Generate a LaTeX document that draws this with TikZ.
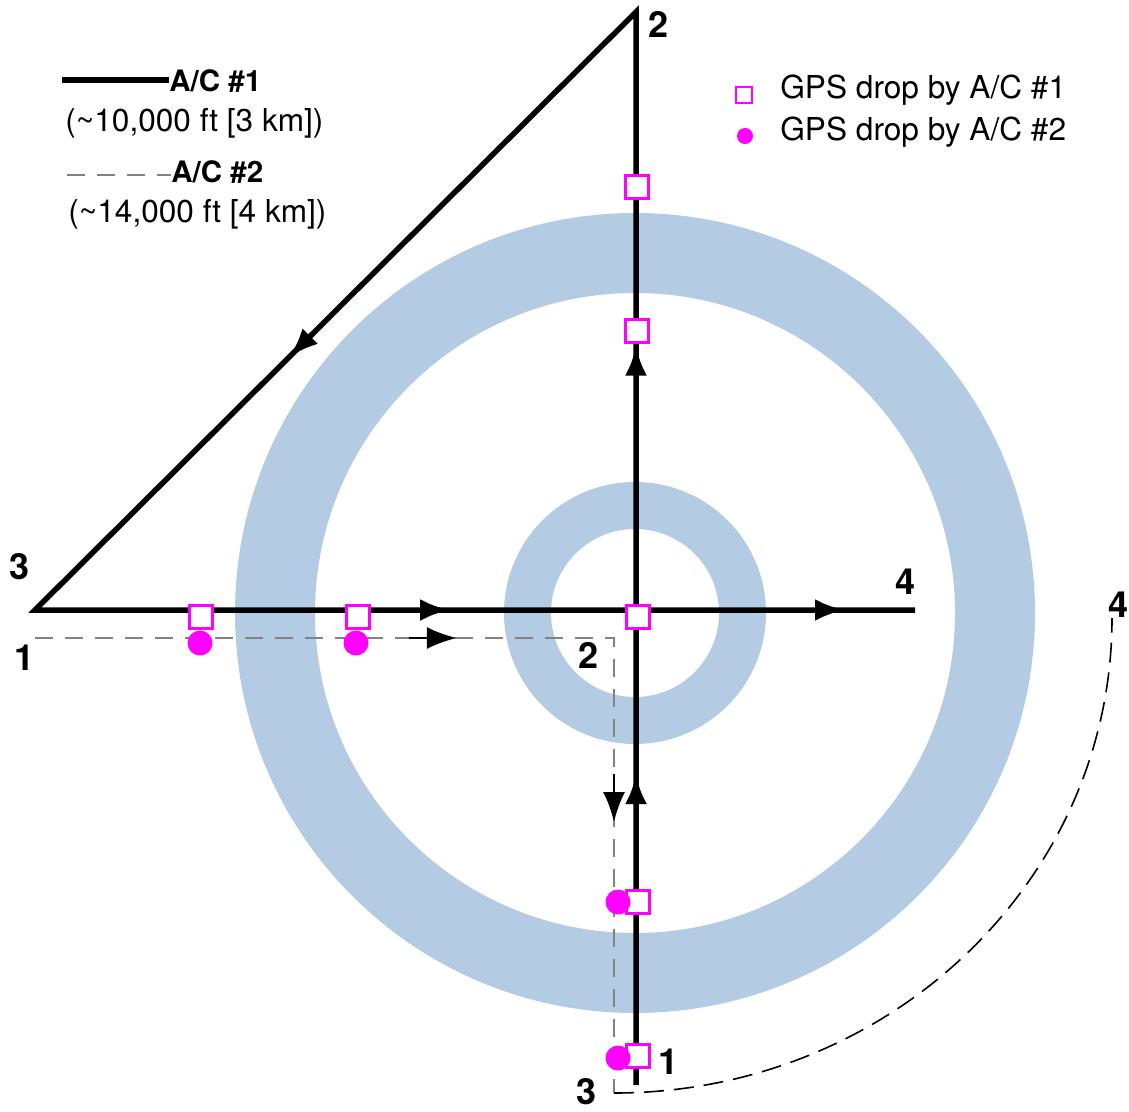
\documentclass[tikz,border=0pt]{standalone}
\usepackage{fontspec}
\setmainfont{TeX Gyre Heros}
\usetikzlibrary{arrows.meta,decorations.markings}

\definecolor{ringblue}{RGB}{179,204,228}
\definecolor{trackgray}{RGB}{130,130,130}
\definecolor{dropmag}{RGB}{255,0,255}

\tikzset{
  trackA/.style={line width=2.75pt, line join=miter},
  trackB/.style={trackgray, line width=1.3pt, dash pattern=on 9pt off 6pt},
  trackC/.style={black, line width=0.8pt, dash pattern=on 10pt off 5pt},
  tipA/.style={postaction={decorate, decoration={markings,
      mark=at position #1 with {\arrow[black]{Latex[length=15pt 0 0,width=11pt 0 0]}}}}},
  tipB/.style={postaction={decorate, decoration={markings,
      mark=at position #1 with {\draw[black, solid, line width=0.8pt] (-24pt,0pt) -- (-10pt,0pt);
        \arrow[black]{Latex[length=15pt 0 0,width=11pt 0 0]}}}}},
  dropA/.style={draw=dropmag, fill=white, line width=1.6pt, minimum size=11.8pt, inner sep=0pt},
  dropB/.style={circle, fill=dropmag, minimum size=12.5pt, inner sep=0pt},
  wpt/.style={font=\fontsize{18}{20}\selectfont\bfseries, inner sep=0pt},
  keytxt/.style={font=\fontsize{15.8}{18}\selectfont, inner sep=0pt},
  keyhead/.style={font=\fontsize{14.75}{18}\selectfont\bfseries, inner sep=0pt},
}

\begin{document}
\begin{tikzpicture}[x=0.5pt,y=-0.5pt]
\useasboundingbox (0,0) rectangle (1129,1112);

% rings
\coordinate (ctr) at (635,613);
\fill[ringblue, even odd rule] (ctr) circle (400) (ctr) circle (320);
\fill[ringblue, even odd rule] (ctr) circle (131) (ctr) circle (84);

% A/C #1 track
\coordinate (a1) at (636,1085);
\coordinate (a2) at (636,12);
\coordinate (a3) at (35,610);
\coordinate (a4) at (915,610);
\draw[trackA, tipA=0.111, tipA=0.264, tipA=0.558, tipA=0.834, tipA=0.975]
  (a1) -- (a2) -- (a3) -- (a4);

% A/C #2 track
\coordinate (b1) at (35,638);
\coordinate (b2) at (614,638);
\coordinate (b3) at (614,1093);
\coordinate (b4) at (1112,618);
\draw[trackB, tipB=0.408, tipB=0.738] (b1) -- (b2) -- (b3);
\draw[trackC] (b3) .. controls (889,1093) and (1112,881) .. (b4);

% drops
\foreach \x/\y [count=\i] in {201/617, 358/617, 638/617, 637/187, 637/331, 638/902, 638/1056}
  \node[dropA] (sq\i) at (\x,\y) {};
\foreach \x/\y [count=\i] in {200/643, 356/643, 618/902, 618/1058}
  \node[dropB] (dot\i) at (\x,\y) {};

% waypoints
\node[wpt] (wA1) at (668,1062) {1};
\node[wpt] (wA2) at (658,24) {2};
\node[wpt] (wA3) at (20,567) {3};
\node[wpt] (wA4) at (905,582) {4};
\node[wpt] (wB1) at (25,658) {1};
\node[wpt] (wB2) at (588,655) {2};
\node[wpt] (wB3) at (586,1092) {3};
\node[wpt] (wB4) at (1118,605) {4};

% legend
\coordinate (keyAl) at (62,80);
\node[keyhead, anchor=base west] (keyA) at (169,92) {A/C \#1};
\draw[trackA] (keyAl) -- (keyAl -| keyA.west);
\node[keytxt, anchor=base west] (altA) at (65,132) {(\textasciitilde 10,000 ft [3 km])};
\coordinate (keyBl) at (67,175);
\node[keyhead, anchor=base west] (keyB) at (171,183) {A/C \#2};
\draw[trackB] (keyBl) -- (keyBl -| keyB.west);
\node[keytxt, anchor=base west] (altB) at (68,223) {(\textasciitilde 14,000 ft [4 km])};

\node[dropA, line width=1pt, minimum size=8pt] (keysq) at (744,95) {};
\node[dropB, minimum size=8pt] (keydot) at (745,136) {};
\node[keytxt, anchor=base west] (keyGA) at (780,99) {GPS drop by A/C \#1};
\node[keytxt, anchor=base west] (keyGB) at (780,141) {GPS drop by A/C \#2};
\end{tikzpicture}
\end{document}
